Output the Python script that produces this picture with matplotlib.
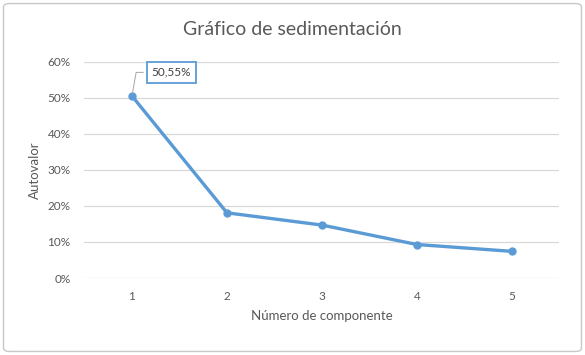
import matplotlib
matplotlib.use("Agg")
import matplotlib.pyplot as plt
from matplotlib.patches import FancyBboxPatch
from matplotlib.ticker import FuncFormatter

plt.rcParams['font.family'] = ['Lato', 'DejaVu Sans']

# data
componentes = [1, 2, 3, 4, 5]
autovalor = [0.5055, 0.181, 0.147, 0.093, 0.074]
yticks = [0, 0.1, 0.2, 0.3, 0.4, 0.5, 0.6]

line_color = "#5B9BD5"
text_color = "#595959"
grid_color = "#D9D9D9"

fig = plt.figure(figsize=(5.85, 3.55), dpi=100)

# rounded outer border
border = FancyBboxPatch((0.006, 0.01), 0.988, 0.98, boxstyle="round,pad=0,rounding_size=0.01",
                        transform=fig.transFigure, fill=False, edgecolor="#C8C8C8", linewidth=1)
fig.patches.append(border)

ax = fig.add_axes([0.1444, 0.2169, 0.812, 0.6085])
ax.plot(componentes, autovalor, color=line_color, linewidth=2.4, marker="o",
        markersize=5, zorder=3, solid_capstyle="round")

ax.set_xlim(0.5, 5.5)
ax.set_ylim(0, 0.6)
ax.set_xticks(componentes)
ax.set_yticks(yticks)
ax.yaxis.set_major_formatter(FuncFormatter(lambda v, p: f"{v*100:.0f}%"))
ax.grid(axis="y", color=grid_color, linewidth=0.9)
ax.set_axisbelow(True)
for s in ax.spines.values():
    s.set_visible(False)
ax.tick_params(length=0, labelsize=8.5, colors=text_color, pad=10)
ax.tick_params(axis="x", pad=9)

ax.set_xlabel("Número de componente", fontsize=9.5, color=text_color, labelpad=6)
ax.set_ylabel("Autovalor", fontsize=9.5, color=text_color, labelpad=5)
fig.suptitle("Gráfico de sedimentación", fontsize=14, color=text_color, y=0.94)

# data label with leader line
lbl = f"{autovalor[0]*100:.2f}%".replace(".", ",")
ax.annotate(lbl, xy=(componentes[0], autovalor[0]), xytext=(14, 17), textcoords="offset points",
            fontsize=8.5, color="#404040", va="center", ha="left",
            bbox=dict(boxstyle="square,pad=0.4", fc="white", ec=line_color, lw=1.3),
            arrowprops=dict(arrowstyle="-", color="#A6A6A6", lw=0.7,
                            connectionstyle="angle,angleA=0,angleB=80,rad=0"))

fig.savefig("out.png", dpi=100)
